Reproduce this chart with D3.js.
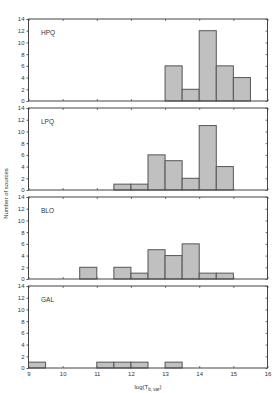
<!DOCTYPE html>
<html>
  <head>
    <meta charset="utf-8">
    <script src="https://cdn.jsdelivr.net/npm/d3@7"></script>
    <style>
      body { margin: 0; background: #fff; }
      svg text { font-family: "Liberation Sans", Arial, sans-serif; fill: #333; }
    </style>
  </head>
  <body>
    <svg id="chart" width="277" height="393"></svg>
    <script>
      // data: bins are 0.5 wide, given by their left edge
      panels = ["HPQ", "LPQ", "BLO", "GAL"];
      hpq = [[13, 6], [13.5, 2], [14, 12], [14.5, 6], [15, 4]];
      lpq = [[11.5, 1], [12, 1], [12.5, 6], [13, 5], [13.5, 2], [14, 11], [14.5, 4]];
      blo = [[10.5, 2], [11.5, 2], [12, 1], [12.5, 5], [13, 4], [13.5, 6], [14, 1], [14.5, 1]];
      gal = [[9, 1], [11, 1], [11.5, 1], [12, 1], [13, 1]];
      series = [hpq, lpq, blo, gal];
      xTicks = [9, 10, 11, 12, 13, 14, 15, 16];
      yTicks = [0, 2, 4, 6, 8, 10, 12, 14];
      binWidth = 0.5;

      // layout
      svg = d3.select("#chart");
      left = 28.5;
      right = 267.5;
      top0 = 19;
      panelH = 82;
      step = 89;

      x = d3.scaleLinear().domain([9, 16]).range([left, right]);

      panels.forEach(function(name, i) {
        let top = top0 + i * step;
        let y = d3.scaleLinear().domain([0, 14]).range([top + panelH, top]);
        let g = svg.append("g");

        // bars
        g.selectAll("rect.bar")
          .data(series[i])
          .join("rect")
            .attr("class", "bar")
            .attr("x", d => x(d[0]))
            .attr("y", d => y(d[1]))
            .attr("width", d => x(d[0] + binWidth) - x(d[0]))
            .attr("height", d => y(0) - y(d[1]))
            .style("fill", "#c0c0c0")
            .style("stroke", "#555")
            .style("stroke-width", 1);

        // left axis, ticks outward
        g.append("g")
          .attr("transform", "translate(" + left + ",0)")
          .call(d3.axisLeft(y).tickValues(yTicks).tickSize(2).tickPadding(2))
          .call(a => a.select(".domain").remove())
          .call(a => a.selectAll("line").style("stroke", "#555"))
          .call(a => a.selectAll("text").style("font-size", "6px").style("fill", "#333"));

        // right ticks inward
        g.append("g")
          .attr("transform", "translate(" + right + ",0)")
          .call(d3.axisLeft(y).tickValues(yTicks).tickSize(2).tickFormat(""))
          .call(a => a.select(".domain").remove())
          .call(a => a.selectAll("line").style("stroke", "#777"));

        // top ticks inward
        g.append("g")
          .attr("transform", "translate(0," + top + ")")
          .call(d3.axisBottom(x).tickValues(xTicks).tickSize(2).tickFormat(""))
          .call(a => a.select(".domain").remove())
          .call(a => a.selectAll("line").style("stroke", "#777"));

        // bottom ticks inward
        g.append("g")
          .attr("transform", "translate(0," + (top + panelH) + ")")
          .call(d3.axisTop(x).tickValues(xTicks).tickSize(2).tickFormat(""))
          .call(a => a.select(".domain").remove())
          .call(a => a.selectAll("line").style("stroke", "#777"));

        // tick labels only on the last panel
        if (i === panels.length - 1) {
          g.append("g")
            .attr("transform", "translate(0," + (top + panelH) + ")")
            .call(d3.axisBottom(x).tickValues(xTicks).tickFormat(d3.format("d")).tickSize(0).tickPadding(4))
            .call(a => a.select(".domain").remove())
            .call(a => a.selectAll("text").style("font-size", "6px").style("fill", "#333"));
        }

        // frame
        g.append("rect")
          .attr("x", left)
          .attr("y", top)
          .attr("width", right - left)
          .attr("height", panelH)
          .style("fill", "none")
          .style("stroke", "#444")
          .style("stroke-width", 1);

        // panel label
        g.append("text")
          .attr("x", 41)
          .attr("y", top + 16)
          .style("font-size", "6.5px")
          .text(name);
      });

      // axis titles
      xl = svg.append("text")
        .attr("x", (left + right) / 2)
        .attr("y", 389)
        .attr("text-anchor", "middle")
        .style("font-size", "6px");
      xl.append("tspan").text("log(T");
      xl.append("tspan").attr("dy", 1.5).style("font-size", "4.5px").text("b, var");
      xl.append("tspan").attr("dy", -1.5).text(")");

      svg.append("text")
        .attr("transform", "translate(8," + (top0 + (3 * step + panelH) / 2) + ") rotate(-90)")
        .attr("text-anchor", "middle")
        .style("font-size", "6px")
        .text("Number of sources");
    </script>
  </body>
</html>
